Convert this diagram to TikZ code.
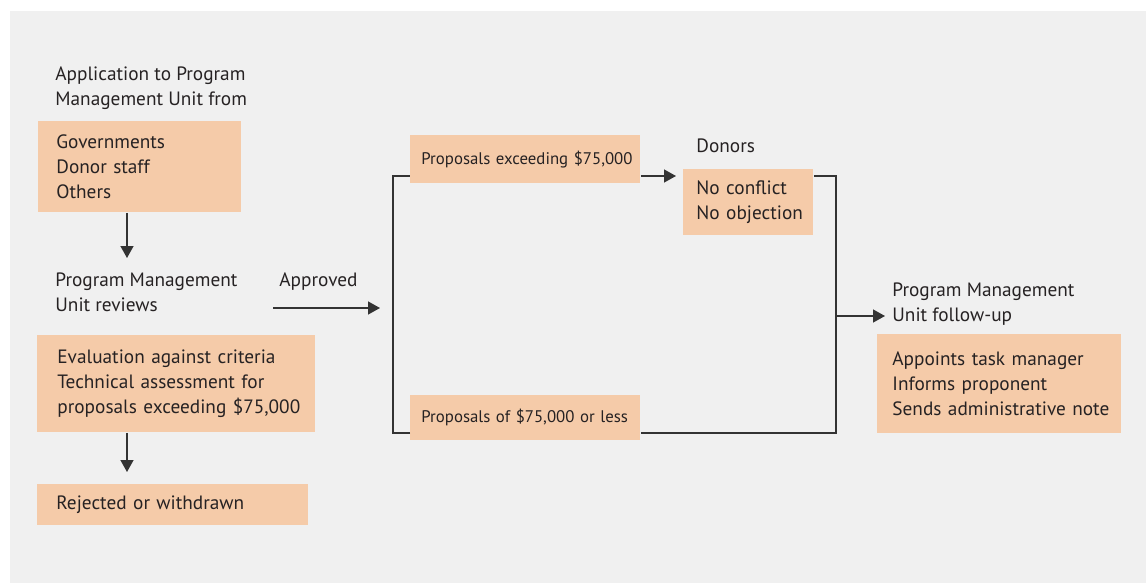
\documentclass[tikz,border=0pt]{standalone}
\usepackage{fontspec}
\setmainfont{PT Sans}
\usetikzlibrary{arrows.meta}
\definecolor{bgc}{HTML}{F0F0F0}
\definecolor{peach}{HTML}{F5CBA9}
\definecolor{ink}{HTML}{262223}
\definecolor{linec}{HTML}{333333}
\newcommand{\oneline}[1]{\mbox{#1}}
\begin{document}
\begin{tikzpicture}[x=0.5pt,y=-0.5pt,
  every node/.style={text=ink},
  mainf/.style={font=\fontsize{9.65}{12.5}\selectfont},
  smallf/.style={font=\fontsize{8.4}{10}\selectfont},
  lbl/.style={mainf,anchor=west,inner sep=0pt,align=left},
  pbox/.style={fill=peach,anchor=north west,inner ysep=0pt,align=left},
  conn/.style={draw=linec,line width=0.7pt},
  arr/.style={conn,-{Triangle[length=6pt,width=6.5pt]}}]
\useasboundingbox (0,0) rectangle (1146,583);
\fill[bgc] (10,11) rectangle (1146,583);

% text labels
\node[lbl] (app) at (55,88.5) {Application to Program\\Management Unit from};
\node[lbl] (rev) at (55,292.5) {Program Management\\Unit reviews};
\node[lbl] (appr) at (279,281.5) {Approved};
\node[lbl] (don) at (696,146) {Donors};
\node[lbl] (fol) at (892,304) {Program Management\\Unit follow-up};

% boxes
\node[pbox,mainf,inner xsep=9pt,text width=83.5pt,minimum height=45.5pt] (b1) at (38,121) {\oneline{Governments}\\\oneline{Donor staff}\\\oneline{Others}};
\node[pbox,mainf,inner xsep=10pt,text width=119pt,minimum height=48.5pt] (b2) at (37,335) {\oneline{Evaluation against criteria}\\\oneline{Technical assessment for}\\\oneline{proposals exceeding \$75,000}};
\node[pbox,mainf,inner xsep=9.5pt,text width=116.5pt,minimum height=20.5pt] (b3) at (37,484) {\oneline{Rejected or withdrawn}};
\node[pbox,smallf,inner xsep=5.5pt,text width=104pt,minimum height=24pt] (pt) at (410,135) {\oneline{Proposals exceeding \$75,000}};
\node[pbox,smallf,inner xsep=5.5pt,text width=104pt,minimum height=22.5pt] (pb) at (410,395) {\oneline{Proposals of \$75,000 or less}};
\node[pbox,mainf,inner xsep=6.5pt,text width=52pt,minimum height=33pt] (db) at (683,169) {\oneline{No conflict}\\\oneline{No objection}};
\node[pbox,mainf,inner xsep=7.5pt,text width=107pt,minimum height=49.5pt] (fb) at (877,334) {\oneline{Appoints task manager}\\\oneline{Informs proponent}\\\oneline{Sends administrative note}};

% coordinates
\coordinate (t1) at (127,258);
\coordinate (t2) at (127,472);
\coordinate (a0) at (273,308);
\coordinate (a1) at (380,308);
\coordinate (bl1) at (393,176);
\coordinate (bl2) at (393,433);
\coordinate (r1) at (836,176);
\coordinate (r2) at (836,433);
\coordinate (f0) at (836,316);
\coordinate (f1) at (885,316);

% connectors
\draw[arr] (b1.south -| t1) -- (t1);
\draw[arr] (b2.south -| t2) -- (t2);
\draw[arr] (a0) -- (a1);
\draw[conn] (pb.west |- bl2) -- (bl2) -- (bl1) -- (pt.west |- bl1);
\draw[arr,shorten >=3.5pt] (pt.east |- bl1) -- (db.west |- bl1);
\draw[conn] (db.east |- r1) -- (r1) -- (r2) -- (pb.east |- r2);
\draw[arr] (f0) -- (f1);
\end{tikzpicture}
\end{document}
